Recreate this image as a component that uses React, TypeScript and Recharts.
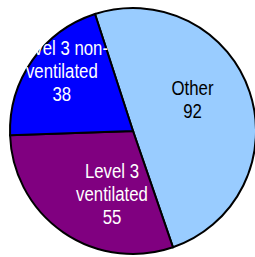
import React from "react";
import { PieChart, Pie, Cell } from "recharts";

const categories = ["Other", "Level 3 ventilated", "Level 3 non-ventilated"];
const labelLines = [["Other"], ["Level 3", "ventilated"], ["Level 3 non-", "ventilated"]];
const values = [92, 55, 38];
const colors = ["#99CCFF", "#800080", "#0000FF"];
const textColors = ["#000000", "#FFFFFF", "#FFFFFF"];
const labelRadius = [67, 67, 93];
const labelNudge = [[-4, -10], [17, 8], [5, -7]];

const data = categories.map((name, i) => ({ name, value: values[i] }));

const RAD = Math.PI / 180;

const renderLabel = (props: any) => {
  const { cx, cy, midAngle, index, value } = props;
  const r = labelRadius[index];
  const x = cx + r * Math.cos(-midAngle * RAD) + labelNudge[index][0];
  const y = cy + r * Math.sin(-midAngle * RAD) + labelNudge[index][1];
  const lines = [...labelLines[index], String(value)];
  const lh = 23;
  return (
    <text
      x={x}
      y={y}
      fill={textColors[index]}
      textAnchor="middle"
      fontFamily="'Liberation Sans', Arial, sans-serif"
      fontSize={21}
      transform={`translate(${x},0) scale(0.8,1) translate(${-x},0)`}
    >
      {lines.map((l, i) => (
        <tspan key={i} x={x} y={y + (i - (lines.length - 1) / 2) * lh} dominantBaseline="central">
          {l}
        </tspan>
      ))}
    </text>
  );
};

export default function App() {
  return (
    <div style={{ position: "absolute", left: 0, top: 0, width: 255, height: 257, background: "#fff" }}>
      <PieChart width={255} height={257} margin={{ top: 0, right: 0, bottom: 0, left: 0 }}>
        <Pie
          data={data}
          dataKey="value"
          nameKey="name"
          cx={133}
          cy={131}
          outerRadius={123}
          startAngle={108}
          endAngle={-252}
          stroke="#000"
          strokeWidth={2}
          label={renderLabel}
          labelLine={false}
          isAnimationActive={false}
        >
          {data.map((d, i) => (
            <Cell key={d.name} fill={colors[i]} />
          ))}
        </Pie>
      </PieChart>
    </div>
  );
}
